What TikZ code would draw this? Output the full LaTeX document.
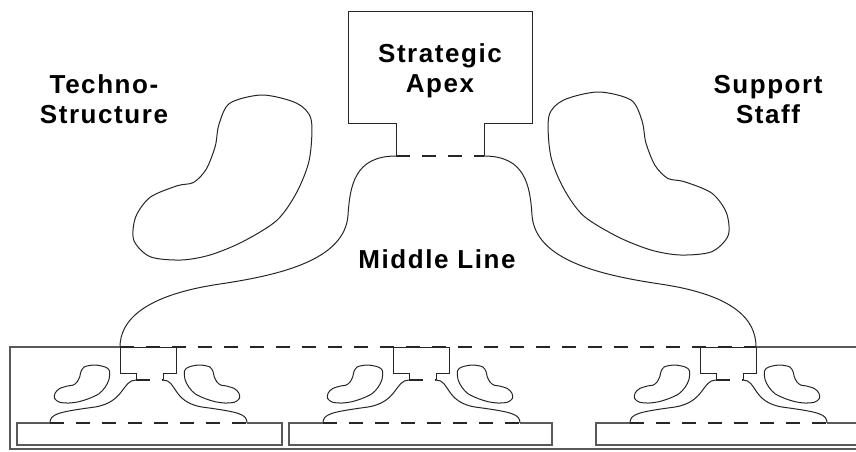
\documentclass[tikz,border=0pt]{standalone}
\usepackage{fontspec}
\newfontfamily\labelfont[LetterSpace=6]{Liberation Sans}

\tikzset{
  kidney/.pic={
    \draw[outline] plot[smooth cycle] coordinates {(0.72,0) (0.91,0.05) (0.99,0.15) (0.98,0.39) (0.91,0.59) (0.80,0.76) (0.61,0.89) (0.43,0.97) (0.27,1) (0.1,0.98) (0.01,0.88) (0.02,0.74) (0.1,0.62) (0.25,0.55) (0.34,0.53) (0.41,0.45) (0.46,0.31) (0.48,0.18) (0.54,0.05)};
  }
}

\begin{document}
\begin{tikzpicture}[x=1pt, y=-1pt,
  outline/.style={line width=1pt, black!85},
  gap/.style={line width=1.4pt, black!85, dash pattern=on 14pt off 12pt},
  frame/.style={line width=1.3pt, black!65},
  label/.style={font=\labelfont\bfseries\fontsize{26}{30}\selectfont, align=center, anchor=base, inner sep=0pt}
]
\useasboundingbox (0,0) rectangle (856,451);
\clip (0,0) rectangle (856,451);

% strategic apex
\draw[outline] (396,156) -- (396,123) -- (348,123) -- (348,11) -- (532,11) -- (532,123) -- (484,123) -- (484,156);
\draw[gap] (396,156) -- (484,156);
\node[label] (apex) at (440,92) {Strategic\\Apex};

% techno-structure and support staff
\pic[xscale=181, yscale=165] at (132,95) {kidney};
\pic[xscale=-183, yscale=163] at (730,92) {kidney};
\node[label] (techno) at (104,123) {Techno-\\Structure};
\node[label] (support) at (768,123) {Support\\Staff};

% middle line
\draw[outline] (396,156) .. controls (355,156) and (350,185) .. (348,215) .. controls (345,260) and (280,275) .. (220,284) .. controls (145,295) and (120,320) .. (120,347);
\draw[outline] (484,156) .. controls (525,156) and (530,185) .. (532,215) .. controls (535,260) and (600,275) .. (660,284) .. controls (735,295) and (756,320) .. (756,347);
\node[label] (middle) at (437,268) {Middle Line};

% divisions
\draw[frame] (120,347) -- (10,347) -- (10,449) -- (870,449);
\draw[frame] (756,347) -- (870,347);
\draw[gap] (120,347) -- (756,347);

\foreach \x/\l/\r in {120/17/282, 393/289/552, 700/596/870} {
  % unit apex
  \draw[outline] (\x+16,380) -- (\x+16,373) -- (\x,373) -- (\x,347) -- (\x+56,347) -- (\x+56,373) -- (\x+43,373) -- (\x+43,380);
  \draw[gap] (\x+16,380) -- (\x+43,380);
  % unit staff
  \pic[xscale=56, yscale=38] at (\x-66,365) {kidney};
  \pic[xscale=-56, yscale=38] at (\x+120,365) {kidney};
  % unit middle line
  \draw[outline] (\x+16,380) .. controls (\x+2,380) and (\x+5,402) .. (\x-25,407) .. controls (\x-62,412) and (\x-70,414) .. (\x-70,423);
  \draw[outline] (\x+43,380) .. controls (\x+57,380) and (\x+52,402) .. (\x+82,407) .. controls (\x+119,412) and (\x+127,414) .. (\x+127,423);
  % unit operating core
  \draw[frame] (\x-70,423) -- (\l,423) -- (\l,445) -- (\r,445) -- (\r,423) -- (\x+127,423);
  \draw[gap] (\x-70,423) -- (\x+127,423);
}
\end{tikzpicture}
\end{document}
